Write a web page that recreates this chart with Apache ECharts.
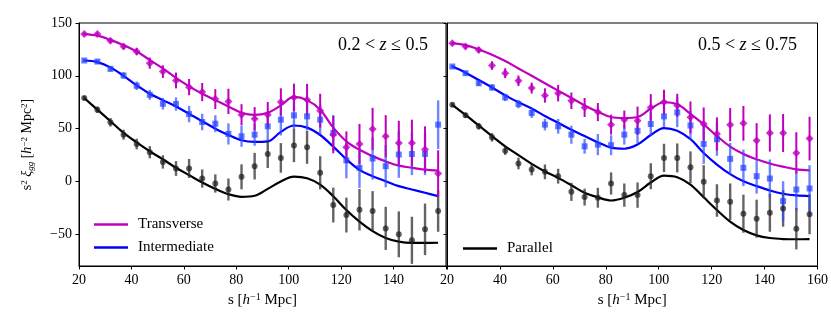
<!DOCTYPE html>
<html>
<head>
<meta charset="utf-8">
<script src="https://cdn.jsdelivr.net/npm/echarts@6/dist/echarts.min.js"></script>
<style>
  html, body { margin: 0; padding: 0; background: #fff; }
  #chart { width: 831px; height: 332px; }
</style>
</head>
<body>
<div id="chart"></div>
<script>
// separation bins (h^-1 Mpc)
var S = [22, 27, 32, 37, 42, 47, 52, 57, 62, 67, 72, 77, 82, 87, 92, 97, 102, 107, 112, 117, 122, 127, 132, 137, 142, 147, 152, 157];

var xTicks = [20, 40, 60, 80, 100, 120, 140, 160];
var yTicks = [-50, 0, 50, 100, 150];

// 0.2 < z <= 0.5
var transL = [139.6, 139.6, 133.3, 127.7, 123, 112, 104, 95.6, 89.3, 84.6, 78, 75.8, 63.2, 59.4, 63.2, 75.2, 79.6, 77.4, 67, 44.3, 32.4, 35.5, 49.7, 42.8, 36.5, 36.5, 30.2, 7.5];
var transLErr = [1.5, 1.5, 2, 2.5, 3.5, 5.3, 6, 7.5, 7.7, 8.6, 9.4, 12, 10, 11, 12, 13, 13, 15, 16, 17.6, 15, 19, 20, 20, 21, 22, 22, 22];
var transLModel = [139.5, 138, 134, 129, 123, 115, 107, 98, 90, 83, 77, 71, 65, 63, 65, 72, 80, 77, 68, 51, 38, 30, 24, 19, 15, 13, 11.3, 10.4];

var interL = [114.5, 113.5, 106.6, 100.3, 90.6, 82, 73.6, 73.3, 63.8, 56.3, 54.7, 45, 42.8, 44.3, 52.2, 58.5, 62.6, 61.6, 58.5, 45.9, 20, 12.9, 21.7, 14.5, 25.5, 26, 26, 53.8];
var interLErr = [1.5, 2, 2.5, 3, 4, 4.7, 5.5, 6.3, 7.8, 7.8, 8, 10, 10, 10.5, 14, 15, 13, 13, 14, 17, 17, 19, 20, 20, 22, 20, 20, 23];
var interLModel = [114.5, 113, 108, 100, 91, 83, 77, 71, 64, 57, 50, 44, 39, 37.5, 38, 47, 53, 51, 44, 33, 21, 11, 5, 0.3, -4.4, -7.6, -10.7, -13.8];

var parL = [78.9, 67.9, 56, 44.3, 35.5, 27.7, 18.5, 12.3, 12.3, 2.8, -1.9, -7.6, 4.4, 14.5, 26.1, 22.3, 34, 32.4, 8.2, -22.3, -31.8, -26.7, -28, -44.4, -50, -55.7, -45.3, -28];
var parLErr = [2, 3, 4, 4.7, 5, 5.8, 6.3, 7, 9, 8.6, 8.6, 10.4, 11.8, 12.6, 13.4, 14, 15.7, 15.7, 15.7, 16.5, 16.5, 19.6, 18.9, 20.4, 21.7, 22.3, 24.4, 19.6];
var parLModel = [79, 68, 57, 46, 37, 28.6, 21, 13, 6, -1, -7, -12, -14.5, -13.5, -7, 0, 4.5, 3, -3, -14, -27, -38, -47, -53.5, -57, -58.2, -58.2, -58];

// 0.5 < z <= 0.75
var transR = [130.8, 127.7, 124.5, 109.7, 102.5, 95.3, 88.4, 81.4, 83.6, 76.4, 70, 65.7, 53.8, 58.5, 57.5, 70.1, 75.2, 72, 60.7, 54.4, 45, 53.8, 55, 38.7, 45.9, 45.9, 27, 40.6];
var transRErr = [1.5, 2, 2.5, 4, 4.7, 5, 5.2, 6.8, 7.8, 7.8, 9, 8.6, 9.4, 8.6, 13.4, 12.6, 11.6, 11, 15, 15.7, 15.7, 15.7, 16.5, 16.5, 17.6, 18, 19.6, 20.7];
var transRModel = [131, 129, 125, 120, 114, 107, 100, 93, 86, 79, 72, 66, 61, 60, 61, 69, 75, 73, 64, 54, 43, 33, 26, 21, 17, 14, 11.5, 10.5];

var interR = [108.8, 102.5, 93, 89, 79.6, 73.3, 64.8, 53.8, 52.2, 44.3, 33.3, 34.9, 34.3, 44.3, 48, 54.4, 61.6, 65.4, 53, 35.5, 40, 21.4, 12.9, 5, 2.8, -18.6, -7.6, -6.6];
var interRErr = [1.5, 2, 2.5, 3, 3.5, 4, 4.7, 5.5, 7, 8.6, 7, 10, 9.4, 9.4, 11.8, 11, 10, 14, 13.7, 18.9, 15.7, 15, 17.3, 16.5, 18, 18.9, 19.6, 22];
var interRModel = [109, 103, 96, 89, 81.5, 75, 69, 62, 55.5, 49, 43, 37, 32, 31, 35, 44, 50.5, 48, 40, 27, 16, 7, 0.3, -4.4, -8.5, -11.6, -13.2, -13.8];

var parR = [72.6, 62.6, 52.2, 41.8, 29.2, 17, 11.3, 9.1, 5, -9.8, -14.8, -15.4, -1.9, -12.9, -12.9, 5, 22.3, 22.3, 13.5, -0.3, -18, -19.2, -30.5, -35.2, -29.6, -25.5, -44.7, -31.1];
var parRErr = [2, 2.5, 3, 4, 4, 5.5, 5.5, 7, 7, 8.6, 8, 9.4, 10.5, 11, 12, 12.3, 13.4, 13.7, 15, 15.7, 15.4, 17.3, 18, 18, 18, 17.3, 19.6, 18.9];
var parRModel = [72.6, 63, 53, 43, 33.3, 25, 16.7, 9.5, 3.4, -3.5, -10.7, -15, -18, -15.4, -10, -1, 5.5, 4, -3, -15, -27, -38, -46, -51, -53.5, -54.5, -54.7, -54.5];

var FONT = 'Liberation Serif';
var MAGENTA = '#bf00bf';
var BLUE = '#0000ff';

var chart = echarts.init(document.getElementById('chart'));

function errBars(idx, pts, err, color, width) {
  return {
    type: 'custom',
    xAxisIndex: idx,
    yAxisIndex: idx,
    silent: true,
    z: 3,
    data: S.map(function (s, i) { return [s, pts[i], err[i]]; }),
    encode: { x: 0, y: 1 },
    renderItem: function (params, api) {
      var x = api.value(0), y = api.value(1), e = api.value(2);
      var hi = api.coord([x, y + e]);
      var lo = api.coord([x, y - e]);
      return {
        type: 'line',
        shape: { x1: hi[0], y1: hi[1], x2: lo[0], y2: lo[1] },
        style: { stroke: color, lineWidth: width }
      };
    }
  };
}

function points(idx, pts, symbol, size, color) {
  return {
    type: 'scatter',
    xAxisIndex: idx,
    yAxisIndex: idx,
    silent: true,
    z: 4,
    symbol: symbol,
    symbolSize: size,
    itemStyle: { color: color },
    data: S.map(function (s, i) { return [s, pts[i]]; })
  };
}

function model(idx, name, vals, color) {
  return {
    type: 'line',
    name: name,
    xAxisIndex: idx,
    yAxisIndex: idx,
    silent: true,
    z: 2,
    smooth: 0.35,
    showSymbol: false,
    symbol: 'none',
    lineStyle: { width: 2.2, color: color },
    itemStyle: { color: color },
    data: S.map(function (s, i) { return [s, vals[i]]; })
  };
}

function panelSeries(idx, tp, te, tm, ip, ie, im, pp, pe, pm) {
  return [
    model(idx, 'Transverse', tm, MAGENTA),
    model(idx, 'Intermediate', im, BLUE),
    model(idx, 'Parallel', pm, '#000'),
    errBars(idx, pp, pe, 'rgba(40,40,40,0.72)', 2.4),
    errBars(idx, ip, ie, 'rgba(45,75,255,0.68)', 2.4),
    errBars(idx, tp, te, MAGENTA, 2),
    points(idx, pp, 'circle', 6, 'rgba(25,25,25,0.85)'),
    points(idx, ip, 'rect', 6, 'rgba(30,60,255,0.85)'),
    points(idx, tp, 'diamond', 8, MAGENTA)
  ];
}

function xAxis(idx, hideLast) {
  return {
    type: 'value',
    gridIndex: idx,
    min: 20,
    max: 160,
    interval: 20,
    name: 's [{it|h}{sup|−1} Mpc]',
    nameLocation: 'middle',
    nameGap: 26,
    nameTextStyle: {
      fontFamily: FONT, fontSize: 15, color: '#000',
      rich: {
        it: { fontFamily: FONT, fontSize: 15, fontStyle: 'italic' },
        sup: { fontFamily: FONT, fontSize: 10, verticalAlign: 'top', padding: [0, 0, 6, 0] }
      }
    },
    axisLine: { onZero: false, lineStyle: { color: '#000', width: 1 } },
    axisTick: { length: 3.5, lineStyle: { color: '#000' } },
    axisLabel: {
      fontFamily: FONT, fontSize: 14, color: '#000', margin: 7,
      formatter: function (v) { return (hideLast && v === 160) ? '' : String(v); }
    },
    splitLine: { show: false }
  };
}

function yAxis(idx, showLabels) {
  var ax = {
    type: 'value',
    gridIndex: idx,
    min: -80,
    max: 150,
    axisLine: { onZero: false, lineStyle: { color: '#000', width: 1 } },
    axisTick: { length: 3.5, customValues: yTicks, lineStyle: { color: '#000' } },
    axisLabel: {
      show: showLabels, customValues: yTicks,
      fontFamily: FONT, fontSize: 14, color: '#000', margin: 7,
      formatter: function (v) { return String(v).replace('-', '−'); }
    },
    splitLine: { show: false }
  };
  if (showLabels) {
    ax.name = '{t|s}{sup|2} {it|ξ}{sub|gg} [{it|h}{sup|−2} {t|Mpc}{sup|2}]';
    ax.nameLocation = 'middle';
    ax.nameGap = 44;
    ax.nameRotate = 90;
    ax.nameTextStyle = {
      fontFamily: FONT, fontSize: 14, color: '#000',
      rich: {
        t: { fontFamily: FONT, fontSize: 14 },
        it: { fontFamily: FONT, fontSize: 14, fontStyle: 'italic' },
        sup: { fontFamily: FONT, fontSize: 9, verticalAlign: 'top', padding: [0, 0, 6, 0] },
        sub: { fontFamily: FONT, fontSize: 9, fontStyle: 'italic', verticalAlign: 'bottom', padding: [5, 0, 0, 0] }
      }
    };
  }
  return ax;
}

var legendText = { fontFamily: FONT, fontSize: 15, color: '#000', padding: [0, 0, 0, 5] };

var option = {
  animation: false,
  backgroundColor: '#fff',
  title: [
    {
      text: '0.2 < {i|z} ≤ 0.5',
      right: 398, top: 31,
      textStyle: {
        fontFamily: FONT, fontSize: 18, fontWeight: 'normal', color: '#000',
        rich: { i: { fontFamily: FONT, fontSize: 18, fontStyle: 'italic' } }
      }
    },
    {
      text: '0.5 < {i|z} ≤ 0.75',
      right: 29, top: 31,
      textStyle: {
        fontFamily: FONT, fontSize: 18, fontWeight: 'normal', color: '#000',
        rich: { i: { fontFamily: FONT, fontSize: 18, fontStyle: 'italic' } }
      }
    }
  ],
  legend: [
    {
      data: ['Transverse', 'Intermediate'],
      orient: 'vertical',
      left: 89, top: 212,
      icon: 'rect', itemWidth: 34, itemHeight: 2.5, itemGap: 8,
      selectedMode: false,
      textStyle: legendText
    },
    {
      data: ['Parallel'],
      orient: 'vertical',
      left: 458, top: 236,
      icon: 'rect', itemWidth: 34, itemHeight: 2.5,
      selectedMode: false,
      textStyle: legendText
    }
  ],
  grid: [
    { left: 79, right: 385, top: 23, bottom: 66, show: true, borderColor: '#000', borderWidth: 1 },
    { left: 447, right: 13, top: 23, bottom: 66, show: true, borderColor: '#000', borderWidth: 1 }
  ],
  xAxis: [xAxis(0, true), xAxis(1, false)],
  yAxis: [yAxis(0, true), yAxis(1, false)],
  series: panelSeries(0, transL, transLErr, transLModel, interL, interLErr, interLModel, parL, parLErr, parLModel)
    .concat(panelSeries(1, transR, transRErr, transRModel, interR, interRErr, interRModel, parR, parRErr, parRModel))
};

option && chart.setOption(option);
</script>
</body>
</html>
